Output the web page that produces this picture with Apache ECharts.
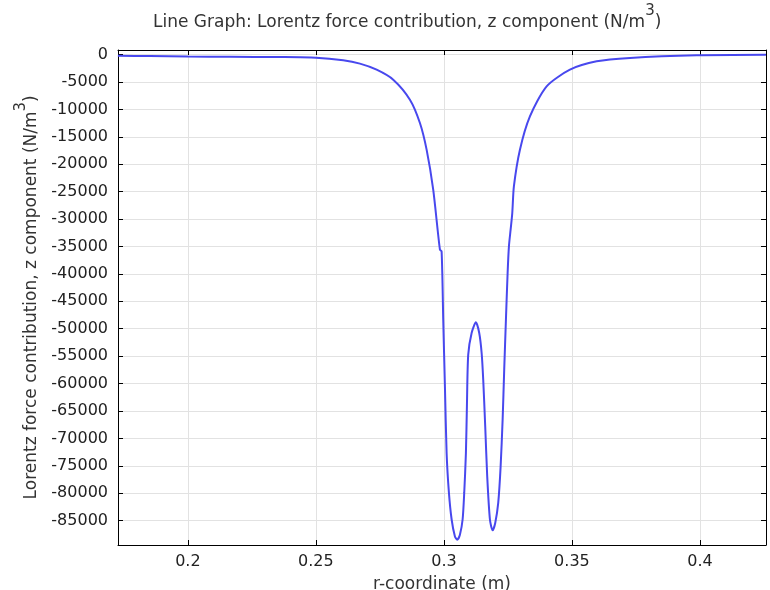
<!DOCTYPE html>
<html>
<head>
<meta charset="utf-8">
<script src="https://cdn.jsdelivr.net/npm/echarts@6/dist/echarts.min.js"></script>
<style>html,body{margin:0;padding:0;background:#fff;}#c{width:770px;height:590px;}</style>
</head>
<body>
<div id="c"></div>
<script>
var rValues = [0.17266,0.18516,0.2,0.2164,0.23594,0.25,0.26066,0.26719,0.27371,0.2802,0.28672,0.29063,0.29324,0.29582,0.29844,0.2991,0.29973,0.30039,0.30105,0.30195,0.30301,0.3043,0.3052,0.30625,0.3073,0.30793,0.30859,0.30898,0.30949,0.31082,0.3125,0.31379,0.31473,0.31535,0.31613,0.31691,0.31797,0.31902,0.32004,0.32121,0.32215,0.32293,0.32355,0.32422,0.32488,0.32539,0.32605,0.32668,0.32734,0.32969,0.33359,0.34012,0.34922,0.35965,0.37266,0.39871,0.42578];
var fzValues = [-200,-250,-330,-390,-440,-560,-1030,-1640,-2740,-4560,-8210,-12460,-17330,-24630,-35570,-35900,-48300,-60500,-72660,-79900,-84800,-87900,-88470,-87560,-84800,-79950,-72660,-64150,-54720,-50770,-48830,-50770,-54420,-59280,-67800,-76920,-84800,-86770,-85430,-81780,-75100,-66580,-57460,-48340,-39830,-34970,-31930,-29000,-24000,-17330,-11250,-5780,-2740,-1220,-610,-120,-20];
var titleText = 'Line Graph: Lorentz force contribution, z component (N/m';
var yName = 'Lorentz force contribution, z component (N/m';
var xName = 'r-coordinate (m)';
var xMin = 0.1727, xMax = 0.4258, yMin = -89450, yMax = 850;

var data = rValues.map(function (r, i) { return [r, fzValues[i]]; });
var font = 'DejaVu Sans';
var chart = echarts.init(document.getElementById('c'), null, {renderer: 'canvas'});
var fmt = function (v) { return String(v); };
var supRich = {
  a: {fontFamily: font, fontSize: 17, color: '#333', lineHeight: 20, verticalAlign: 'bottom'},
  s: {fontFamily: font, fontSize: 15, color: '#333', lineHeight: 15, verticalAlign: 'top'},
  h: {fontFamily: font, fontSize: 1, lineHeight: 27, verticalAlign: 'bottom'}
};
function supText(t) { return '{h| }{a|' + t + '}{s|3}{a|)}'; }
var baseAxis = {
  type: 'value',
  axisLine: {show: true, onZero: false, lineStyle: {color: '#000', width: 1}},
  axisTick: {show: true, inside: true, length: 5, lineStyle: {color: '#000', width: 1}},
  splitLine: {show: false},
  axisLabel: {show: false}
};
chart.setOption({
  animation: false,
  backgroundColor: '#fff',
  title: {
    text: supText(titleText),
    left: 402, top: -1, textAlign: 'center',
    textStyle: {fontWeight: 'normal', rich: supRich}
  },
  grid: {left: 118, right: 4, top: 50, bottom: 45, show: false, containLabel: false, outerBoundsMode: 'none'},
  xAxis: [
    Object.assign({}, baseAxis, {
      min: xMin, max: xMax, position: 'bottom',
      name: xName, nameLocation: 'middle', nameGap: 31,
      nameTextStyle: {fontFamily: font, fontSize: 17, color: '#333'},
      splitLine: {show: true, lineStyle: {color: '#e2e2e2', width: 1}},
      axisLabel: {show: true, showMinLabel: false, showMaxLabel: false, margin: 9, fontFamily: font, fontSize: 16, color: '#222', formatter: fmt}
    }),
    Object.assign({}, baseAxis, {min: xMin, max: xMax, position: 'top'})
  ],
  yAxis: [
    Object.assign({}, baseAxis, {
      min: yMin, max: yMax, splitNumber: 18, position: 'left',
      name: supText(yName), nameLocation: 'middle', nameGap: 75,
      nameTextStyle: {rich: supRich},
      splitLine: {show: true, lineStyle: {color: '#e2e2e2', width: 1}},
      axisLabel: {show: true, showMinLabel: false, showMaxLabel: false, margin: 10, fontFamily: font, fontSize: 16, color: '#222', formatter: fmt}
    }),
    Object.assign({}, baseAxis, {min: yMin, max: yMax, splitNumber: 18, position: 'right'})
  ],
  series: [{
    type: 'line',
    data: data,
    xAxisIndex: 0, yAxisIndex: 0,
    showSymbol: false,
    smooth: 0.25,
    lineStyle: {color: '#4848ee', width: 2},
    itemStyle: {color: '#4848ee'}
  }]
});
</script>
</body>
</html>
